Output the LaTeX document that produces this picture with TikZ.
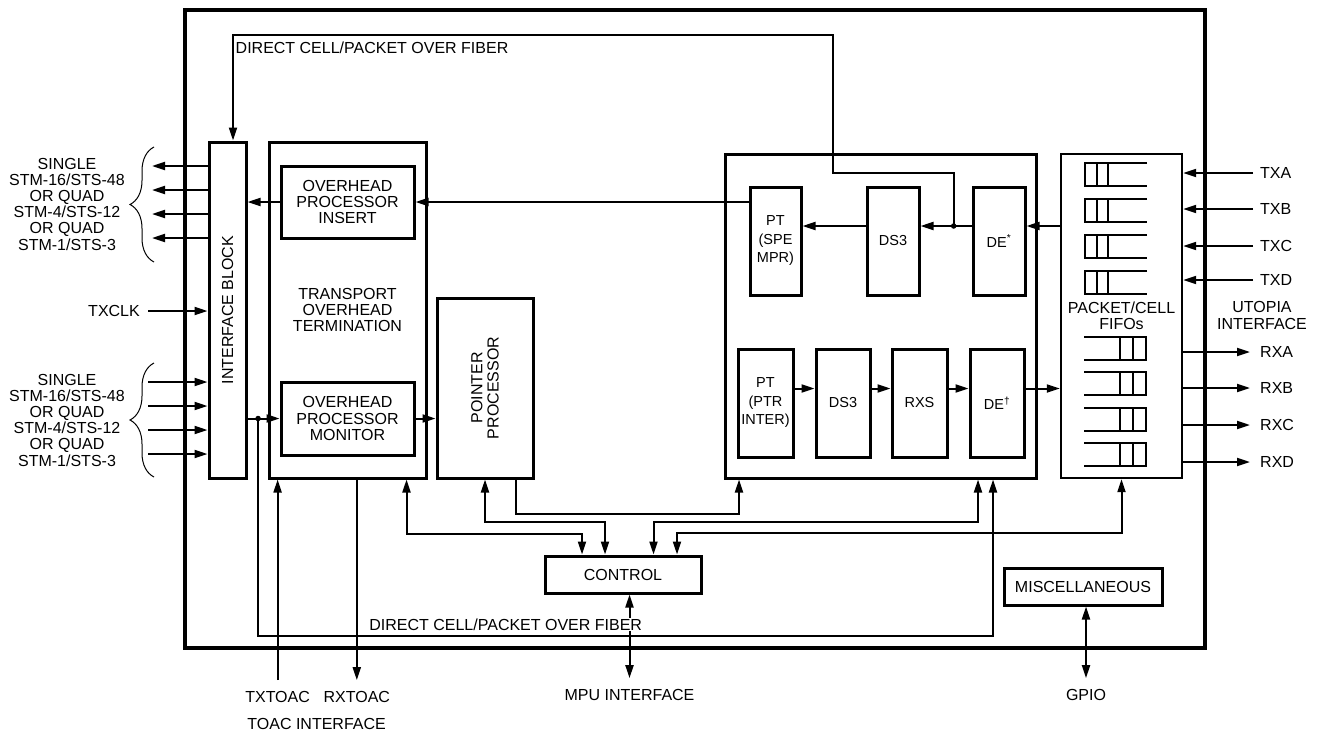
\documentclass[tikz,border=0pt]{standalone}
\usepackage{fontspec}
\setmainfont{Liberation Sans}
\usepackage{tikz}
\usetikzlibrary{arrows.meta,positioning,calc,decorations.pathreplacing}

\begin{document}
\begin{tikzpicture}[
  x=1pt, y=-1pt,
  font=\fontsize{16}{16.2}\selectfont,
  >={Triangle[length=13pt,width=8pt]},
  chipbox/.style={draw, line width=3.2pt},
  blk/.style={draw, line width=3pt, inner sep=0pt, align=center},
  ptblk/.style={blk, font=\fontsize{14.5}{18.5}\selectfont},
  sig/.style={line width=2pt},
  fifoln/.style={line width=2.8pt},
  brc/.style={decorate, decoration={brace, amplitude=24pt}, line width=1pt},
  lbl/.style={inner sep=2pt, align=center},
  jdot/.style={circle, fill=black, inner sep=0pt, minimum size=5.5pt}
]
  \useasboundingbox (0,0) rectangle (1321,731);

  % chip outline
  \node[chipbox, minimum width=1020pt, minimum height=638pt] (chip) at (695,329) {};

  % line side blocks
  \node[blk, minimum width=37pt, minimum height=336pt] (ifb) at (227.5,310) {};
  \node[rotate=90] (ifbtxt) at (ifb) {INTERFACE BLOCK};
  \node[blk, minimum width=157pt, minimum height=336pt] (toh) at (347.5,310) {TRANSPORT\\OVERHEAD\\TERMINATION};
  \node[blk, minimum width=133pt, minimum height=72pt] (ohi) at (347.5,202) {OVERHEAD\\PROCESSOR\\INSERT};
  \node[blk, minimum width=133pt, minimum height=73pt] (ohm) at (347.5,418.5) {OVERHEAD\\PROCESSOR\\MONITOR};
  \node[blk, minimum width=96pt, minimum height=180pt] (ptr) at (485,388) {};
  \node[rotate=90, align=center] (ptrtxt) at (ptr) {POINTER\\PROCESSOR};

  % path blocks
  \node[blk, minimum width=311pt, minimum height=324pt] (spe) at (880.5,316) {};
  \node[ptblk, minimum width=51pt, minimum height=108pt] (pta) at (775.5,241) {PT\\(SPE\\MPR)};
  \node[ptblk, minimum width=52pt, minimum height=108pt] (dsa) at (893,241) {DS3};
  \node[ptblk, minimum width=52pt, minimum height=108pt] (dea) at (999,241) {DE\textsuperscript{*}};
  \node[ptblk, minimum width=55pt, minimum height=108pt] (ptb) at (765.5,403) {PT\\(PTR\\INTER)};
  \node[ptblk, minimum width=54pt, minimum height=108pt] (dsb) at (843,403) {DS3};
  \node[ptblk, minimum width=55pt, minimum height=108pt] (rxs) at (919.5,403) {RXS};
  \node[ptblk, minimum width=54pt, minimum height=108pt] (deb) at (997,403) {DE\textsuperscript{\textdagger}};

  % fifos
  \node[blk, line width=2.4pt, minimum width=121pt, minimum height=324pt] (fifo) at (1121.5,316) {PACKET/CELL\\FIFOs};
  \foreach \t in {163,199,235,271}{
    \draw[fifoln] (1147,\t) -- (1085,\t) -- (1085,\t+23) -- (1147,\t+23);
    \draw[fifoln] (1097,\t) -- (1097,\t+23) (1108,\t) -- (1108,\t+23);
  }
  \foreach \t in {337,372,408,443}{
    \draw[fifoln] (1084,\t) -- (1146,\t) -- (1146,\t+23) -- (1084,\t+23);
    \draw[fifoln] (1120,\t) -- (1120,\t+23) (1133,\t) -- (1133,\t+23);
  }

  \node[blk, minimum width=156pt, minimum height=37pt] (ctrl) at (623,574.5) {CONTROL};
  \node[blk, minimum width=158pt, minimum height=37pt] (misc) at (1083,586.5) {MISCELLANEOUS};

  % line interface
  \node[lbl] (grpa) at (67,204) {SINGLE\\STM-16/STS-48\\OR QUAD\\STM-4/STS-12\\OR QUAD\\STM-1/STS-3};
  \node[lbl] (grpb) at (67,420) {SINGLE\\STM-16/STS-48\\OR QUAD\\STM-4/STS-12\\OR QUAD\\STM-1/STS-3};
  \draw[brc] (154,262) -- (154,147);
  \draw[brc] (154,477) -- (154,363);
  \foreach \yy [count=\i] in {166,190,214,238}{
    \coordinate (out\i) at (152,\yy);
    \draw[sig,->] (ifb.west |- out\i) -- (out\i);
  }
  \foreach \yy [count=\i] in {382,406,430,454}{
    \coordinate (in\i) at (148,\yy);
    \draw[sig,->] (in\i) -- (ifb.west |- in\i);
  }
  \node[lbl, anchor=east] (txclk) at (142,311) {TXCLK};
  \draw[sig,->] ([xshift=6pt]txclk.east) -- (txclk -| ifb.west);

  % overhead paths
  \draw[sig,->] (ohi.east -| pta.west) -- (ohi.east);
  \draw[sig,->] (ohi.west) -- (ohi.west -| ifb.east);
  \draw[sig,->] (ohm.west -| ifb.east) -- (ohm.west);
  \draw[sig,->] (ohm.east) -- (ohm.east -| ptr.west);
  \coordinate (jm) at ($(ohm.west -| ifb.east)!0.33!(ohm.west)$);

  % transmit path
  \coordinate (jt) at ($([yshift=15pt]dea.west)!0.35!([yshift=15pt]dsa.east)$);
  \draw[sig,->] (fifo.west |- jt) -- (dea.east |- jt);
  \draw[sig,->] ([yshift=15pt]dea.west) -- ([yshift=15pt]dsa.east);
  \draw[sig,->] ([yshift=15pt]dsa.west) -- ([yshift=15pt]pta.east);

  % receive path
  \coordinate (dbo) at ([yshift=14.5pt]deb.east);
  \draw[sig,->] ([yshift=14.5pt]ptb.east) -- ([yshift=14.5pt]dsb.west);
  \draw[sig,->] ([yshift=14.5pt]dsb.east) -- ([yshift=14.5pt]rxs.west);
  \draw[sig,->] ([yshift=14.5pt]rxs.east) -- ([yshift=14.5pt]deb.west);
  \draw[sig,->] (dbo) -- (dbo -| fifo.west);

  % direct cell/packet over fiber loops
  \coordinate (tl) at (233,35);
  \draw[sig,->] (jt) |- (833,173) |- (tl) -- (tl |- ifb.north);
  \node[lbl, anchor=west] (toplbl) at (233.5,47.5) {DIRECT CELL/PACKET OVER FIBER};
  \coordinate (bl) at (993,636);
  \draw[sig,->] (jm) |- (bl) -- (bl |- spe.south);
  \node[jdot] (jtdot) at (jt) {};
  \node[jdot] (jmdot) at (jm) {};

  % control bus
  \draw[sig,<->] ([xshift=-21pt]toh.south east) -- ++(0,54) -| ([xshift=-41pt]ctrl.north);
  \draw[sig,<->] (ptr.south) -- ++(0,42) -| ([xshift=-18pt]ctrl.north);
  \draw[sig,->] ([xshift=31pt]ptr.south) -- ++(0,34.5) -| ([xshift=-141.5pt]spe.south);
  \draw[sig,<->] ([xshift=97.5pt]spe.south) -- ++(0,42) -| ([xshift=30.5pt]ctrl.north);
  \draw[sig,<->] (fifo.south) -- ++(0,54) -| ([xshift=54pt]ctrl.north);

  % utopia interface
  \foreach \nm/\yy in {TXA/173,TXB/209,TXC/246,TXD/280}{
    \node[lbl, anchor=west] (\nm) at (1258,\yy) {\nm};
    \draw[sig,->] ([xshift=-5pt]\nm.west) -- (\nm.west -| fifo.east);
  }
  \foreach \nm/\yy in {RXA/352,RXB/388,RXC/425,RXD/462}{
    \node[lbl, anchor=west] (\nm) at (1258,\yy) {\nm};
    \draw[sig,->] (\nm.west -| fifo.east) -- ([xshift=-8pt]\nm.west);
  }
  \node[lbl] (utopia) at (1262,315.5) {UTOPIA\\INTERFACE};

  % bottom pins
  \node[lbl] (txtoac) at (277.6,697) {TXTOAC};
  \node[lbl] (rxtoac) at (356.8,697) {RXTOAC};
  \node[lbl] (toac) at (316.6,724) {TOAC INTERFACE};
  \draw[sig,->] ([yshift=9pt]txtoac.north) -- (txtoac.north |- toh.south);
  \draw[sig,->] (rxtoac.north |- toh.south) -- ([yshift=9pt]rxtoac.north);
  \node[lbl] (mpu) at (629.5,695) {MPU INTERFACE};
  \draw[sig,<->] (mpu.north |- ctrl.south) -- ([yshift=9pt]mpu.north);
  \node[lbl, fill=white, inner sep=0.5pt] (botlbl) at (505.7,624.3) {DIRECT CELL/PACKET OVER FIBER};
  \node[lbl] (gpio) at (1086,695) {GPIO};
  \draw[sig,<->] (gpio.north |- misc.south) -- ([yshift=9pt]gpio.north);
\end{tikzpicture}
\end{document}
